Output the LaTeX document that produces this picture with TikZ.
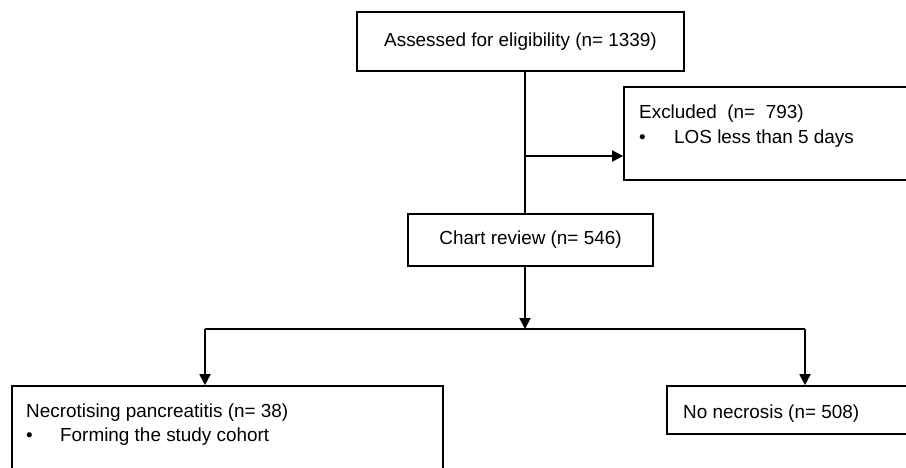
\documentclass[tikz,border=0pt]{standalone}
\usepackage{fontspec}
\setmainfont{Liberation Sans}
\usetikzlibrary{arrows.meta}
\begin{document}
\begin{tikzpicture}[x=1pt,y=-1pt,
  boxnode/.style={draw=black,line width=1.7pt,rectangle,inner sep=0pt,
    font=\fontsize{18.9}{22}\selectfont},
  txt/.style={inner sep=0pt,anchor=base west,font=\fontsize{18.9}{22}\selectfont},
  conn/.style={line width=1.9pt},
  arr/.style={line width=1.9pt,-{Triangle[length=11pt,width=11pt]}}]
\useasboundingbox (0,0) rectangle (906,467);
\clip (0,0) rectangle (906,467);
% boxes
\node[boxnode,minimum width=327pt,minimum height=59pt] (assess) at (520.5,41.5) {Assessed for eligibility (n= 1339)};
\node[boxnode,minimum width=291pt,minimum height=93pt] (exc) at (769.5,133.5) {};
\node[boxnode,minimum width=245pt,minimum height=52pt] (chart) at (530.5,240) {Chart review (n= 546)};
\node[boxnode,minimum width=431pt,minimum height=94pt] (necro) at (227.5,433) {};
\node[boxnode,minimum width=248pt,minimum height=48pt] (nonec) at (791,410) {};
% texts
\node[txt] (excT1) at (639,118) {Excluded\ \ (n=\ \ 793)};
\node[txt] (excT2) at (639,143) {\makebox[35pt][l]{•}LOS less than 5 days};
\node[txt] (necT1) at (26,417) {Necrotising pancreatitis (n= 38)};
\node[txt] (necT2) at (26,441) {\makebox[34pt][l]{•}Forming the study cohort};
\node[txt] (nonT) at (683,418) {No necrosis (n= 508)};
% connector coordinates
\coordinate (spine) at (525,0);
\coordinate (excin) at (624,156);
\coordinate (split) at (525,329);
\coordinate (left) at (205,329);
\coordinate (right) at (805,329);
% connectors
\draw[conn] (assess.south -| spine) -- (chart.north -| spine);
\draw[arr] (spine |- excin) -- (exc.west |- excin);
\draw[arr] (chart.south -| spine) -- (split);
\draw[conn] (left) -- (right);
\draw[arr] (left) -- (necro.north -| left);
\draw[arr] (right) -- (nonec.north -| right);
\end{tikzpicture}
\end{document}
